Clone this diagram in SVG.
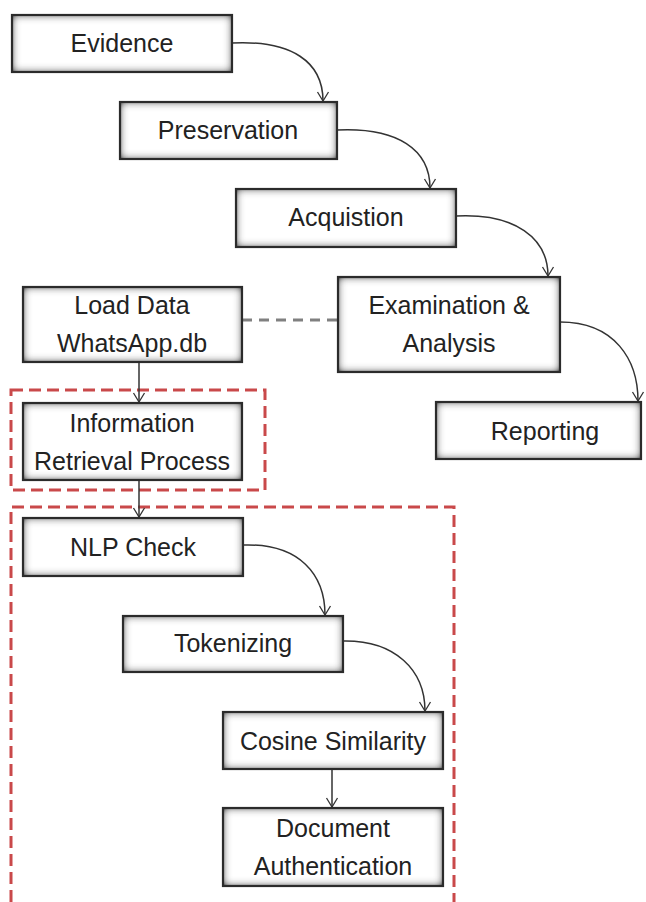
<svg xmlns="http://www.w3.org/2000/svg" width="646" height="902" viewBox="0 0 646 902">
<defs>
<filter id="inset" x="-5%" y="-10%" width="110%" height="120%">
<feFlood flood-color="#404040" result="f"/>
<feComposite in="f" in2="SourceAlpha" operator="out" result="o"/>
<feGaussianBlur in="o" stdDeviation="4.5" result="b"/>
<feComponentTransfer in="b" result="b2"><feFuncA type="linear" slope="1.5"/></feComponentTransfer>
<feComposite in="b2" in2="SourceAlpha" operator="in" result="i"/>
<feMerge><feMergeNode in="SourceGraphic"/><feMergeNode in="i"/></feMerge>
</filter>
<marker id="arr" markerWidth="14" markerHeight="14" refX="12" refY="7" orient="auto" markerUnits="userSpaceOnUse">
<path d="M3,1.5 L12,7 L3,12.5" fill="none" stroke="#333" stroke-width="1.3"/>
</marker>
</defs>
<style>
.box{fill:#fff;filter:url(#inset)}
.bd{fill:none;stroke:#2b2b2b;stroke-width:2.2}
text{font-family:"Liberation Sans",Arial,sans-serif;font-size:25px;fill:#222;text-anchor:middle}
.c{fill:none;stroke:#333;stroke-width:1.5;marker-end:url(#arr)}
.red{fill:none;stroke:#c9494a;stroke-width:3;stroke-dasharray:12 6}
</style>
<rect width="646" height="902" fill="#fff"/>

<g id="groups">
<rect class="red" x="11" y="390" width="254" height="100"/>
<path class="red" d="M11,902 V507 H454 V902"/>
</g>

<g id="connectors">
<path class="c" d="M232,43 C292,40 323,62 323,101"/>
<path class="c" d="M337,130 C398,127 430,150 430,188"/>
<path class="c" d="M456,216 C515,213 548,238 548,276"/>
<path class="c" d="M560,322 C615,322 638,360 638,401"/>
<path class="c" d="M139,362 V402"/>
<path class="c" d="M139,480 V517"/>
<path class="c" d="M243,545 C300,543 325,575 325,615"/>
<path class="c" d="M343,641 C395,640 425,670 425,711"/>
<path class="c" d="M332,769 V807"/>
<path d="M242,320 H338" fill="none" stroke="#808080" stroke-width="3" stroke-dasharray="10 7"/>
</g>

<g id="evidence"><rect class="box" x="12" y="15" width="220" height="57"/><rect class="bd" x="12" y="15" width="220" height="57"/><text x="122" y="52">Evidence</text></g>
<g id="preservation"><rect class="box" x="120" y="102" width="217" height="57"/><rect class="bd" x="120" y="102" width="217" height="57"/><text x="228" y="139">Preservation</text></g>
<g id="acquistion"><rect class="box" x="236" y="189" width="220" height="58"/><rect class="bd" x="236" y="189" width="220" height="58"/><text x="346" y="226">Acquistion</text></g>
<g id="examination"><rect class="box" x="338" y="277" width="222" height="95"/><rect class="bd" x="338" y="277" width="222" height="95"/><text x="449" y="314">Examination &amp;</text><text x="449" y="352">Analysis</text></g>
<g id="reporting"><rect class="box" x="436" y="402" width="205" height="57"/><rect class="bd" x="436" y="402" width="205" height="57"/><text x="545" y="440">Reporting</text></g>
<g id="loaddata"><rect class="box" x="23" y="287" width="219" height="75"/><rect class="bd" x="23" y="287" width="219" height="75"/><text x="132" y="314">Load Data</text><text x="132" y="352">WhatsApp.db</text></g>
<g id="inforetrieval"><rect class="box" x="23" y="403" width="219" height="77"/><rect class="bd" x="23" y="403" width="219" height="77"/><text x="132" y="432">Information</text><text x="132" y="470">Retrieval Process</text></g>
<g id="nlpcheck"><rect class="box" x="23" y="518" width="220" height="58"/><rect class="bd" x="23" y="518" width="220" height="58"/><text x="133" y="556">NLP Check</text></g>
<g id="tokenizing"><rect class="box" x="123" y="616" width="220" height="56"/><rect class="bd" x="123" y="616" width="220" height="56"/><text x="233" y="652">Tokenizing</text></g>
<g id="cosine"><rect class="box" x="223" y="712" width="220" height="57"/><rect class="bd" x="223" y="712" width="220" height="57"/><text x="333" y="750">Cosine Similarity</text></g>
<g id="document"><rect class="box" x="223" y="808" width="220" height="78"/><rect class="bd" x="223" y="808" width="220" height="78"/><text x="333" y="837">Document</text><text x="333" y="875">Authentication</text></g>
</svg>
